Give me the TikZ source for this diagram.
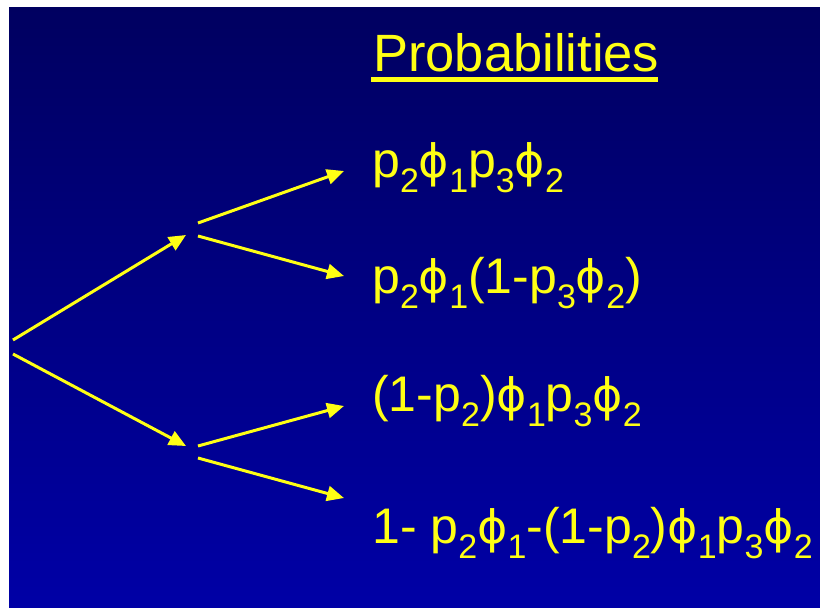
\documentclass[tikz,border=0pt]{standalone}
\usepackage{fontspec}
\setmainfont{Liberation Sans}
\newfontfamily\phifont{DejaVu Sans}
\usetikzlibrary{arrows.meta}
\definecolor{bgtop}{RGB}{0,0,96}
\definecolor{bgbot}{RGB}{0,0,166}
\definecolor{ylw}{RGB}{255,255,20}
\newcommand{\lw}[1]{\raisebox{-15pt}{\fontsize{34}{34}\selectfont #1}}
\newcommand{\phii}{{\phifont\fontsize{46}{46}\selectfont ϕ}}
\tikzset{
  conn/.style={draw=ylw, line width=3pt, -{Triangle[length=17pt,width=15pt]}},
  formula/.style={anchor=base west, inner sep=0pt, text=ylw, font=\fontsize{50}{50}\selectfont},
}
\begin{document}
\begin{tikzpicture}[x=1pt,y=-1pt]
\useasboundingbox (0,0) rectangle (820,608);
\fill[white] (0,0) rectangle (820,608);
\shade[top color=bgtop, bottom color=bgbot] (9,7) rectangle (820,608);
% title
\node[anchor=base west, inner sep=0pt, text=ylw, font=\fontsize{52.5}{52.5}\selectfont] (title) at (373,71) {Probabilities};
\fill[ylw] (371,77) rectangle (658,82);
% tree points
\coordinate (r1) at (13,340);
\coordinate (r2) at (13,354);
\coordinate (a) at (186,235);
\coordinate (a1) at (198,223);
\coordinate (a2) at (198,236);
\coordinate (b) at (186,446);
\coordinate (b1) at (198,446);
\coordinate (b2) at (198,458);
\coordinate (e1) at (344,171);
\coordinate (e2) at (344,276);
\coordinate (e3) at (344,406);
\coordinate (e4) at (344,498);
% formulas
\node[formula] (t1) at (372,177) {p\lw{2}\phii\lw{1}p\lw{3}\phii\lw{2}};
\node[formula] (t2) at (372,293) {p\lw{2}\phii\lw{1}(1-p\lw{3}\phii\lw{2})};
\node[formula] (t3) at (372,411) {(1-p\lw{2})\phii\lw{1}p\lw{3}\phii\lw{2}};
\node[formula] (t4) at (372,543) {1- p\lw{2}\phii\lw{1}-(1-p\lw{2})\phii\lw{1}p\lw{3}\phii\lw{2}};
% connectors
\draw[conn] (r1) -- (a);
\draw[conn] (r2) -- (b);
\draw[conn] (a1) -- (e1);
\draw[conn] (a2) -- (e2);
\draw[conn] (b1) -- (e3);
\draw[conn] (b2) -- (e4);
\end{tikzpicture}
\end{document}
